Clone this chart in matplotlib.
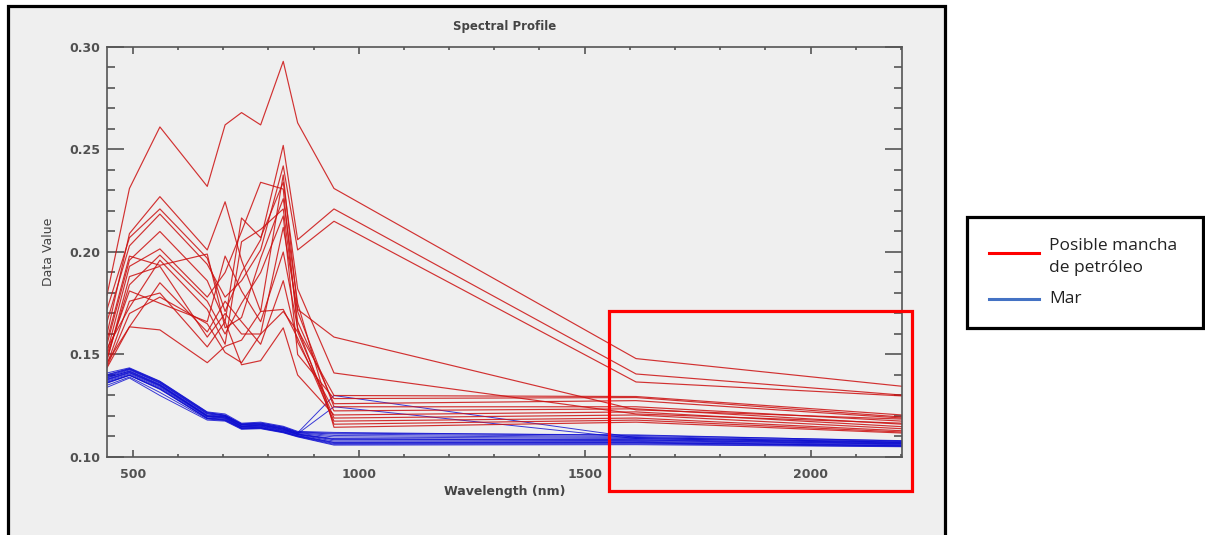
import numpy as np
import matplotlib
matplotlib.use('Agg')
import matplotlib.pyplot as plt
from matplotlib.patches import Rectangle
from matplotlib.lines import Line2D
from matplotlib.ticker import MultipleLocator

W, H = 1205, 535

# Sentinel-2 band centres (nm)
wavelengths = [442.7, 492.4, 559.8, 664.6, 704.1, 740.5, 782.8, 832.8, 864.7, 945.1, 1613.7, 2202.4]

# possible oil slick pixels
oil_spectra = [
    [0.179, 0.231, 0.261, 0.232, 0.262, 0.268, 0.262, 0.293, 0.263, 0.231, 0.148, 0.1345],
    [0.172, 0.207, 0.221, 0.197, 0.171, 0.190, 0.206, 0.252, 0.206, 0.221, 0.1405, 0.1302],
    [0.166, 0.203, 0.2185, 0.194, 0.178, 0.186, 0.201, 0.242, 0.201, 0.215, 0.1366, 0.1298],
    [0.160, 0.209, 0.227, 0.201, 0.2245, 0.196, 0.171, 0.2376, 0.172, 0.1585, 0.123, 0.1185],
    [0.155, 0.196, 0.210, 0.186, 0.166, 0.2166, 0.207, 0.234, 0.182, 0.141, 0.121, 0.1165],
    [0.151, 0.193, 0.2015, 0.178, 0.190, 0.210, 0.234, 0.2307, 0.162, 0.130, 0.1295, 0.1205],
    [0.148, 0.184, 0.1985, 0.176, 0.160, 0.175, 0.190, 0.2176, 0.150, 0.1285, 0.129, 0.1195],
    [0.153, 0.173, 0.196, 0.172, 0.155, 0.205, 0.211, 0.221, 0.166, 0.126, 0.1275, 0.119],
    [0.147, 0.188, 0.193, 0.1585, 0.170, 0.160, 0.160, 0.212, 0.171, 0.1245, 0.1245, 0.1175],
    [0.146, 0.1635, 0.185, 0.161, 0.176, 0.166, 0.155, 0.186, 0.156, 0.1225, 0.1235, 0.116],
    [0.145, 0.176, 0.180, 0.1537, 0.166, 0.145, 0.147, 0.163, 0.140, 0.1205, 0.122, 0.1148],
    [0.144, 0.170, 0.178, 0.165, 0.151, 0.146, 0.160, 0.171, 0.161, 0.119, 0.1205, 0.1138],
    [0.1435, 0.1635, 0.162, 0.146, 0.154, 0.157, 0.171, 0.172, 0.158, 0.1175, 0.119, 0.1128],
    [0.150, 0.181, 0.175, 0.166, 0.198, 0.181, 0.166, 0.200, 0.163, 0.116, 0.118, 0.1122],
    [0.157, 0.198, 0.1935, 0.199, 0.163, 0.168, 0.197, 0.226, 0.175, 0.1145, 0.117, 0.1117],
]

# sea pixels
sea_spectra = [
    [0.141, 0.1435, 0.137, 0.122, 0.121, 0.1165, 0.117, 0.115, 0.1125, 0.112, 0.1105, 0.108],
    [0.140, 0.143, 0.1365, 0.1215, 0.1205, 0.116, 0.1165, 0.1145, 0.112, 0.1112, 0.110, 0.1076],
    [0.139, 0.1425, 0.136, 0.121, 0.120, 0.1158, 0.116, 0.114, 0.1118, 0.1105, 0.1095, 0.1073],
    [0.1385, 0.142, 0.1355, 0.1205, 0.1198, 0.1155, 0.1158, 0.1138, 0.1115, 0.1098, 0.109, 0.107],
    [0.138, 0.1415, 0.135, 0.120, 0.1195, 0.115, 0.1155, 0.1135, 0.1112, 0.109, 0.1085, 0.1066],
    [0.1375, 0.141, 0.1345, 0.1198, 0.119, 0.1148, 0.115, 0.113, 0.111, 0.1084, 0.108, 0.1063],
    [0.137, 0.1405, 0.134, 0.1195, 0.1188, 0.1145, 0.1148, 0.1128, 0.1108, 0.1078, 0.1076, 0.106],
    [0.1365, 0.140, 0.1335, 0.119, 0.1185, 0.1142, 0.1145, 0.1125, 0.1105, 0.1072, 0.1072, 0.1057],
    [0.136, 0.1398, 0.133, 0.1188, 0.118, 0.114, 0.1142, 0.1122, 0.1102, 0.1066, 0.1068, 0.1054],
    [0.135, 0.139, 0.1315, 0.1185, 0.1178, 0.1138, 0.114, 0.112, 0.110, 0.1062, 0.1064, 0.1052],
    [0.134, 0.1385, 0.130, 0.118, 0.1175, 0.1135, 0.1138, 0.1118, 0.1098, 0.1058, 0.106, 0.105],
    [0.1395, 0.1428, 0.1362, 0.1212, 0.1202, 0.1159, 0.1162, 0.1142, 0.1118, 0.130, 0.1095, 0.1072],
    [0.1388, 0.1418, 0.1352, 0.1202, 0.1196, 0.1152, 0.1156, 0.1136, 0.1113, 0.1245, 0.109, 0.1068],
    [0.1402, 0.1432, 0.1368, 0.1218, 0.1203, 0.1162, 0.1166, 0.1146, 0.1122, 0.1116, 0.1108, 0.1078],
    [0.1378, 0.1412, 0.1348, 0.1199, 0.1192, 0.1149, 0.1152, 0.1132, 0.1111, 0.1087, 0.1083, 0.1064],
    [0.1362, 0.1399, 0.1332, 0.1189, 0.1182, 0.1141, 0.1143, 0.1123, 0.1103, 0.107, 0.107, 0.1055],
]

legend_labels = ['Posible mancha\nde petróleo', 'Mar']


def fx(px):
    return px / W


def fy(py):
    return 1 - py / H


fig = plt.figure(figsize=(W / 100, H / 100), dpi=100, facecolor='white')

# grey ENVI panel with black frame
fig.add_artist(Rectangle((fx(8), fy(545)), fx(945) - fx(8), fy(6) - fy(545),
                         transform=fig.transFigure, facecolor='#efefef',
                         edgecolor='black', linewidth=2.3, zorder=0))

ax = fig.add_axes([fx(107), fy(457), fx(902) - fx(107), fy(47) - fy(457)])
ax.set_facecolor('#efefef')

for s in sea_spectra:
    ax.plot(wavelengths, s, color='#0a0ad0', linewidth=0.7, alpha=0.8)
for s in oil_spectra:
    ax.plot(wavelengths, s, color='#cc1010', linewidth=0.85, alpha=0.85)

ax.set_xlim(wavelengths[0], wavelengths[-1])
ax.set_ylim(0.10, 0.30)
ax.xaxis.set_major_locator(MultipleLocator(500))
ax.xaxis.set_minor_locator(MultipleLocator(100))
ax.yaxis.set_major_locator(MultipleLocator(0.05))
ax.yaxis.set_minor_locator(MultipleLocator(0.01))
ax.yaxis.set_major_formatter(matplotlib.ticker.FormatStrFormatter('%.2f'))

axis_col = '#555555'
for sp in ax.spines.values():
    sp.set_color(axis_col)
    sp.set_linewidth(1.2)
ax.tick_params(which='both', direction='in', top=True, right=True,
               color=axis_col, width=1.2, labelcolor='#505050')
ax.tick_params(axis='x', which='major', length=5, pad=8)
ax.tick_params(axis='x', which='minor', length=2.5)
ax.tick_params(axis='y', which='major', length=12, pad=5)
ax.tick_params(axis='y', which='minor', length=6)
for lab in ax.get_xticklabels() + ax.get_yticklabels():
    lab.set_fontweight('bold')
    lab.set_fontsize(9)

ax.set_title('Spectral Profile', fontsize=8.5, fontweight='bold', color='#444444', pad=12)
ax.set_xlabel('Wavelength (nm)', fontsize=9, fontweight='bold', color='#444444', labelpad=3)
ax.set_ylabel('Data Value', fontsize=9, color='#444444', labelpad=10)

# red highlight box
fig.add_artist(Rectangle((fx(609), fy(491)), fx(912) - fx(609), fy(311) - fy(491),
                         transform=fig.transFigure, facecolor='none',
                         edgecolor='#ff0000', linewidth=2.3, zorder=10))

# legend box outside the panel
fig.add_artist(Rectangle((fx(967), fy(328)), fx(1203) - fx(967), fy(217) - fy(328),
                         transform=fig.transFigure, facecolor='white',
                         edgecolor='black', linewidth=2.3, zorder=10))
fig.add_artist(Line2D([fx(989), fx(1039)], [fy(253), fy(253)], transform=fig.transFigure,
                      color='#ff0000', linewidth=2.2, zorder=11))
fig.add_artist(Line2D([fx(989), fx(1039)], [fy(299), fy(299)], transform=fig.transFigure,
                      color='#4472c4', linewidth=2.2, zorder=11))
fig.text(fx(1049), fy(257), legend_labels[0], fontsize=12.5, family='Open Sans',
         color='#222222', va='center', ha='left', linespacing=1.45, zorder=12)
fig.text(fx(1049), fy(299), legend_labels[1], fontsize=12.5, family='Open Sans',
         color='#222222', va='center', ha='left', zorder=12)

fig.savefig('out.png', dpi=100, facecolor='white')
